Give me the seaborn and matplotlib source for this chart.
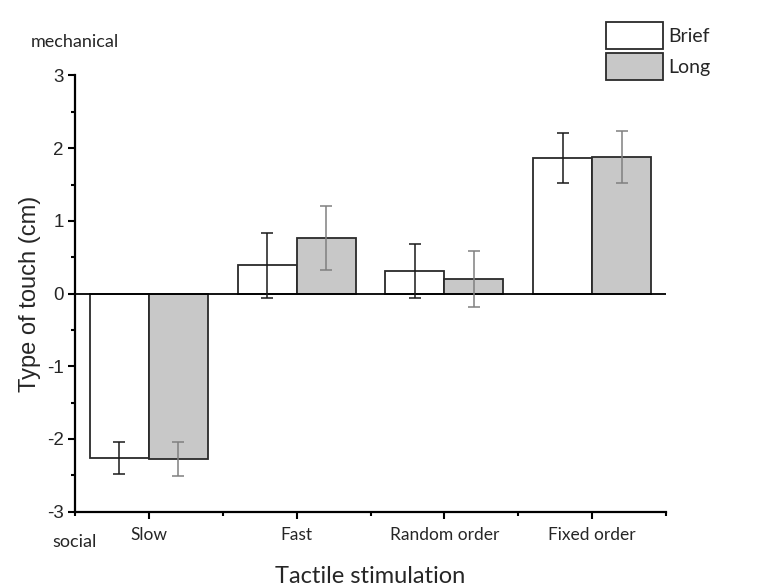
import numpy as np
import pandas as pd
import matplotlib
matplotlib.use("Agg")
import matplotlib.pyplot as plt
from matplotlib.patches import Patch
import seaborn as sns

categories = ["Slow", "Fast", "Random order", "Fixed order"]
groups = ["Brief", "Long"]
brief_mean = [-2.26, 0.39, 0.315, 1.865]
long_mean = [-2.27, 0.765, 0.205, 1.875]
brief_err = [0.225, 0.445, 0.37, 0.345]
long_err = [0.235, 0.435, 0.385, 0.355]
y_ticks = [-3, -2, -1, 0, 1, 2, 3]
y_tick_labels = ["-3", "-2", "-1", "0", "1", "2", "3"]

df = pd.DataFrame({
    "category": categories * 2,
    "group": ["Brief"] * 4 + ["Long"] * 4,
    "value": brief_mean + long_mean,
    "err": brief_err + long_err,
})

sns.set_style("ticks")
plt.rcParams["font.family"] = ["Liberation Sans", "DejaVu Sans"]

fig = plt.figure(figsize=(7.66, 5.88), dpi=100)
ax = fig.add_axes([0.0979, 0.1298, 0.7716, 0.7418])

palette = {"Brief": "#ffffff", "Long": "#c8c8c8"}
sns.barplot(data=df, x="category", y="value", hue="group", order=categories,
            hue_order=groups, palette=palette, errorbar=None, width=0.8,
            edgecolor="#2a2a2a", linewidth=1.3, saturation=1, ax=ax, legend=False)

err_colors = {"Brief": "#1a1a1a", "Long": "#808080"}
for container, g in zip(ax.containers, groups):
    sub = df[df["group"] == g].set_index("category").loc[categories]
    xs = [b.get_x() + b.get_width() / 2 for b in container]
    ax.errorbar(xs, sub["value"], yerr=sub["err"], fmt="none",
                ecolor=err_colors[g], elinewidth=1.1, capsize=4, capthick=1.1, zorder=5)

ax.axhline(0, color="black", lw=1.3, zorder=4)
ax.set_ylim(-3, 3)
ax.set_xlim(-0.5, 3.5)
ax.set_yticks(y_ticks)
ax.set_yticklabels(y_tick_labels, family="Liberation Sans", fontsize=13.5)
ax.set_yticks([-2.5, -1.5, -0.5, 0.5, 1.5, 2.5], minor=True)
ax.set_xticks([-0.5, 0.5, 1.5, 2.5, 3.5], minor=True)
ax.set_xticks(range(len(categories)))
ax.set_xticklabels(categories, family="Lato", fontsize=12.5)
ax.tick_params(axis="both", which="major", length=5, width=1.5, color="black")
ax.tick_params(axis="both", which="minor", length=3, width=1.5, color="black")
ax.tick_params(axis="x", which="major", pad=6)
ax.tick_params(axis="y", which="major", pad=3)
sns.despine(ax=ax)
for s in ["left", "bottom"]:
    ax.spines[s].set_linewidth(1.6)
    ax.spines[s].set_color("black")

ax.set_xlabel("Tactile stimulation", family="Lato", fontsize=17, labelpad=16.5)
ax.set_ylabel("Type of touch (cm)", fontsize=17, labelpad=4)

fig.text(0.098, 0.929, "mechanical", ha="center", va="center", family="Lato", fontsize=13)
fig.text(0.097, 0.078, "social", ha="center", va="center", family="Lato", fontsize=13)

handles = [Patch(facecolor=palette[g], edgecolor="#2a2a2a", linewidth=1.3, label=g) for g in groups]
leg = fig.legend(handles=handles, loc="upper left", bbox_to_anchor=(0.7905, 0.963),
                 frameon=False, borderpad=0, borderaxespad=0, handlelength=2.95, handleheight=1.8,
                 handletextpad=0.3, labelspacing=0.18, prop={"family": "Lato", "size": 14})

fig.savefig("out.png", dpi=100)
